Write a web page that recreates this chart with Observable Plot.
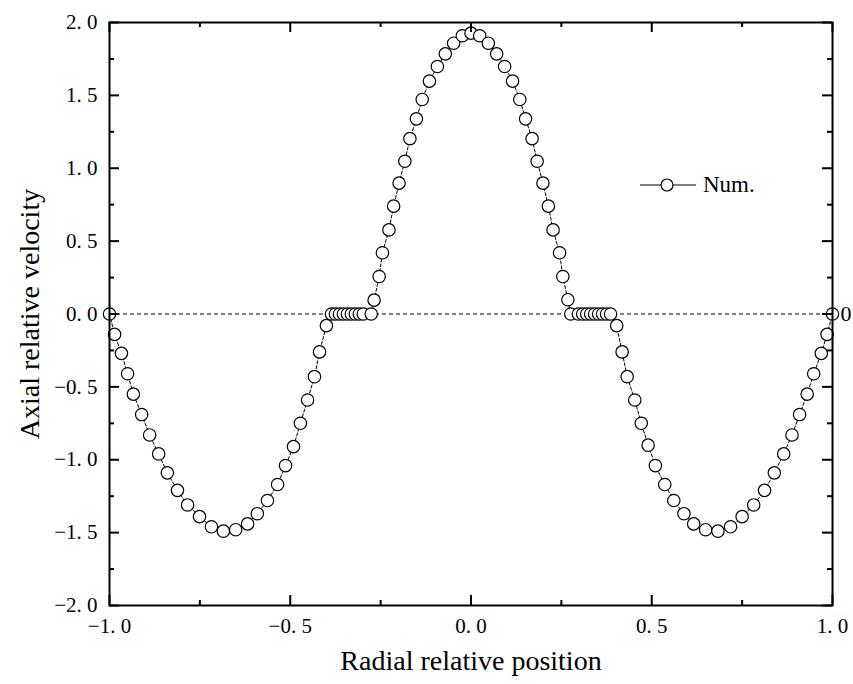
<!DOCTYPE html>
<html><head><meta charset="utf-8">
<script src="https://cdn.jsdelivr.net/npm/d3@7"></script>
<script src="https://cdn.jsdelivr.net/npm/@observablehq/plot@0.6"></script>
<style>
body{margin:0;background:#fff;overflow:hidden}
#wrap{position:relative;width:853px;height:684px}
#legend{position:absolute;left:640px;top:174px;height:22px;display:flex;align-items:center;font-family:"Liberation Serif",serif;font-size:23px;color:#000}
#legend span{margin-left:7px;line-height:22px}
</style>
</head><body><div id="wrap"></div>
<script>
// Radial relative position of each sample
const xPos = [
  -1.000, -0.986, -0.967, -0.950, -0.934, -0.911, -0.889, -0.864, -0.840, -0.812,
  -0.784, -0.751, -0.718, -0.685, -0.651, -0.618, -0.591, -0.563, -0.535, -0.513,
  -0.491, -0.472, -0.452, -0.433, -0.419, -0.400,
  -0.386, -0.375, -0.364, -0.353, -0.342, -0.331, -0.320, -0.309, -0.298, -0.276,
  -0.268, -0.254, -0.245, -0.227, -0.214, -0.199, -0.183, -0.169, -0.151, -0.135,
  -0.115, -0.093, -0.071, -0.048, -0.024, 0.000,
  0.024, 0.048, 0.071, 0.093, 0.115, 0.135, 0.151, 0.169, 0.183, 0.199,
  0.214, 0.227, 0.245, 0.254, 0.268,
  0.276, 0.297, 0.309, 0.320, 0.331, 0.342, 0.353, 0.364, 0.375, 0.386,
  0.403, 0.418, 0.432, 0.453, 0.471, 0.490, 0.510, 0.536, 0.561, 0.589,
  0.616, 0.649, 0.683, 0.718, 0.750, 0.782, 0.812, 0.839, 0.865, 0.888,
  0.909, 0.930, 0.948, 0.969, 0.985, 1.000
];
// Axial relative velocity of each sample
const yVel = [
  0.00, -0.14, -0.27, -0.41, -0.55, -0.69, -0.83, -0.96, -1.09, -1.21,
  -1.31, -1.39, -1.46, -1.49, -1.48, -1.44, -1.37, -1.28, -1.17, -1.04,
  -0.91, -0.75, -0.59, -0.43, -0.26, -0.08,
  0, 0, 0, 0, 0, 0, 0, 0, 0, 0,
  0.095, 0.257, 0.420, 0.577, 0.740, 0.898, 1.048, 1.203, 1.339, 1.472,
  1.598, 1.698, 1.785, 1.858, 1.909, 1.927,
  1.909, 1.858, 1.785, 1.698, 1.598, 1.472, 1.339, 1.203, 1.048, 0.898,
  0.740, 0.577, 0.420, 0.257, 0.098,
  0, 0, 0, 0, 0, 0, 0, 0, 0, 0,
  -0.08, -0.26, -0.43, -0.59, -0.75, -0.90, -1.04, -1.17, -1.28, -1.37,
  -1.44, -1.48, -1.49, -1.46, -1.39, -1.31, -1.21, -1.09, -0.96, -0.83,
  -0.69, -0.55, -0.41, -0.27, -0.14, 0.00
];
const xMajor = [-1, -0.5, 0, 0.5, 1];
const xMinor = [-0.75, -0.25, 0.25, 0.75];
const yMajor = [-2, -1.5, -1, -0.5, 0, 0.5, 1, 1.5, 2];
const yMinor = [-1.75, -1.25, -0.75, -0.25, 0.25, 0.75, 1.25, 1.75];
const xTitle = "Radial relative position";
const yTitle = "Axial relative velocity";
const seriesName = "Num.";
const rightLabel = ["0"];

const data = xPos.map((x, i) => ({x, y: yVel[i]}));
const fmt = d => d3.format(".1f")(d).replace(".", ". ").replace("-", "\u2212");

const W = 853, H = 684, mL = 109, mR = 21, mT = 22, mB = 79;
const pw = W - mL - mR, ph = H - mT - mB;
const font = "Liberation Serif";

const chart = Plot.plot({
  width: W, height: H,
  marginLeft: mL, marginRight: mR, marginTop: mT, marginBottom: mB,
  style: {fontFamily: font, fontSize: "21px", background: "white", color: "black", overflow: "visible"},
  x: {domain: [-1, 1], axis: null},
  y: {domain: [-2, 2], axis: null},
  marks: [
    Plot.ruleY([0], {stroke: "black", strokeWidth: 1, strokeDasharray: "4,3"}),
    Plot.line(data, {x: "x", y: "y", stroke: "black", strokeWidth: 1, strokeDasharray: "3,2"}),
    Plot.dot(data, {x: "x", y: "y", r: 6.2, fill: "white", stroke: "black", strokeWidth: 1.2}),
    // inward ticks on all four sides
    Plot.tickX(xMajor, {x: d => d, insetTop: ph - 10, stroke: "black", strokeWidth: 2}),
    Plot.tickX(xMinor, {x: d => d, insetTop: ph - 5, stroke: "black", strokeWidth: 2}),
    Plot.tickX(xMajor, {x: d => d, insetBottom: ph - 10, stroke: "black", strokeWidth: 2}),
    Plot.tickX(xMinor, {x: d => d, insetBottom: ph - 5, stroke: "black", strokeWidth: 2}),
    Plot.tickY(yMajor, {y: d => d, insetRight: pw - 10, stroke: "black", strokeWidth: 2}),
    Plot.tickY(yMinor, {y: d => d, insetRight: pw - 5, stroke: "black", strokeWidth: 2}),
    Plot.tickY(yMajor, {y: d => d, insetLeft: pw - 10, stroke: "black", strokeWidth: 2}),
    Plot.tickY(yMinor, {y: d => d, insetLeft: pw - 5, stroke: "black", strokeWidth: 2}),
    Plot.frame({stroke: "black", strokeWidth: 2}),
    Plot.axisX({ticks: xMajor, tickSize: 0, tickPadding: 13, tickFormat: fmt, fontSize: 21, label: null}),
    Plot.axisY({ticks: yMajor, tickSize: 0, tickPadding: 12, tickFormat: fmt, fontSize: 21, label: null}),
    Plot.text(rightLabel, {y: d => +d, frameAnchor: "right", dx: 8, textAnchor: "start", fontSize: 22}),
    Plot.text([xTitle], {frameAnchor: "bottom", textAnchor: "middle", dy: 64, fontSize: 28}),
    Plot.text([yTitle], {frameAnchor: "left", textAnchor: "middle", dx: -79, rotate: -90, fontSize: 28})
  ]
});
const wrap = document.getElementById("wrap");
wrap.appendChild(chart);
const lg = document.createElement("div");
lg.id = "legend";
lg.innerHTML = '<svg width="56" height="22"><line x1="0" y1="11" x2="56" y2="11" stroke="black" stroke-width="1"/><circle cx="27" cy="11" r="6" fill="white" stroke="black" stroke-width="1.2"/></svg><span></span>';
lg.querySelector("span").textContent = seriesName;
wrap.appendChild(lg);
</script>
</body></html>
